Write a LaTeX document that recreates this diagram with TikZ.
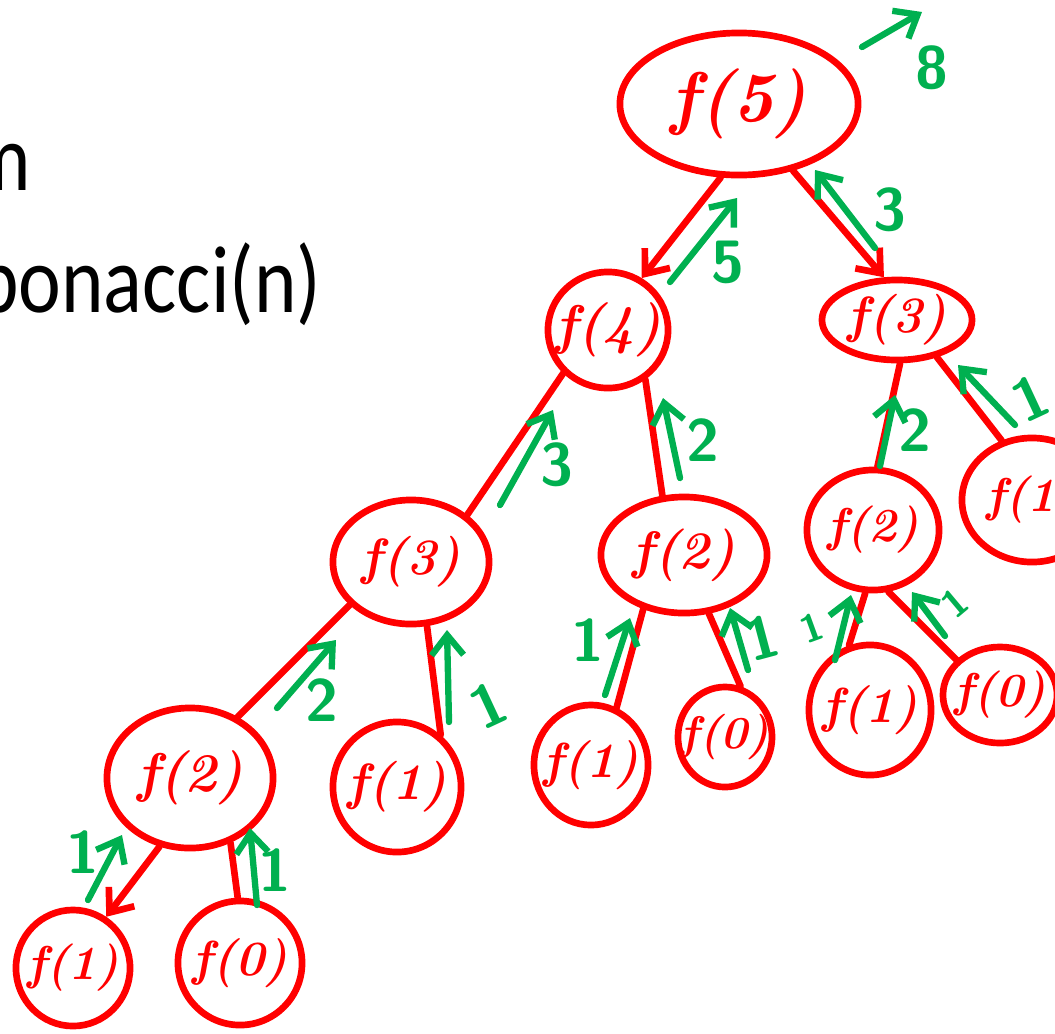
\documentclass[tikz,border=0pt]{standalone}
\usepackage{fontspec}
\newfontfamily\slidefont{Carlito}
\usetikzlibrary{arrows.meta,shapes.geometric}
\definecolor{pen}{RGB}{255,0,0}
\definecolor{ink}{RGB}{0,176,80}

\begin{document}
\begin{tikzpicture}[x=0.01cm,y=-0.01cm,
  call/.style n args={4}{draw=pen, line width=1.9pt, ellipse, inner sep=0pt,
    minimum width=#1*0.02cm, minimum height=#2*0.02cm,
    label={[text=pen, inner sep=0pt,
      font=\fontsize{#3}{#3}\selectfont\bfseries\itshape]center:#4}},
  link/.style={draw=pen, line width=1.9pt, line cap=round},
  calltip/.style={-{Straight Barb[length=0.2cm,width=0.32cm]}},
  ret/.style={draw=ink, line width=1.8pt, line cap=round,
    -{Straight Barb[length=0.2cm,width=0.32cm]}},
  num/.style={text=ink, font=\fontsize{#1}{#1}\selectfont\bfseries\sffamily, inner sep=0pt},
  num/.default=17,
  slide/.style={anchor=base east, inner sep=0pt, font=\slidefont\fontsize{23}{28}\selectfont}
]
\useasboundingbox (0,0) rectangle (1055,1033);
\clip (0,0) rectangle (1055,1033);

% slide text
\node[slide] (line1) at (32,190) {\scalebox{1}[1.18]{m}};
\node[slide] (line2) at (322,312) {\scalebox{1}[1.18]{bonacci(n)}};

% recursion tree
\node[call={119}{71}{20}{f(5)}]  (n5)   at (739,104) {};
\node[call={60}{58}{15.5}{f(4)}] (n4)   at (608,330) {};
\node[call={75}{40}{14.5}{f(3)}] (n3r)  at (897,320) {};
\node[call={78}{62}{14.5}{f(3)}] (n3l)  at (411,562) {};
\node[call={83}{58}{15}{f(2)}]   (n2m)  at (684,555) {};
\node[call={66}{60}{13.5}{f(2)}] (n2r)  at (873,530) {};
\node[call={70}{62}{13.5}{f(1)}] (n1fr) at (1032,500) {};
\node[call={83}{70}{15.5}{f(2)}] (n2bl) at (190,778) {};
\node[call={64}{65}{14.5}{f(1)}] (n1lm) at (397,787) {};
\node[call={57}{60}{14}{f(1)}]   (n1m)  at (591,765) {};
\node[call={47}{50}{13}{f(0)}]   (n0m)  at (725,737) {};
\node[call={61}{65}{14}{f(1)}]   (n1r)  at (870,710) {};
\node[call={57}{48}{13.5}{f(0)}] (n0r)  at (1000,695) {};
\node[call={57}{58}{13.5}{f(1)}] (n1bl) at (73,968) {};
\node[call={62}{62}{14}{f(0)}]   (n0b)  at (240,963) {};

% calls
\draw[link,calltip] (n5.-104) -- (n4.57);
\draw[link,calltip] (n5.-51)  -- (n3r.107);
\draw[link] (n4.-136) -- (n3l.40);
\draw[link] (n4.-53)  -- (n2m.110);
\draw[link] (n3l.-145) -- (n2bl.52);
\draw[link] (n3l.-76) -- (n1lm.50);
\draw[link] (n2m.-127) -- (n1m.66);
\draw[link] (n2m.-67) -- (n0m.73);
\draw[link] (n3r.-86) -- (n2r.86);
\draw[link] (n3r.-43) -- (n1fr.117);
\draw[link] (n2r.-97) -- (n1r.108);
\draw[link] (n2r.-76) -- (n0r.141);
\draw[link,calltip] (n2bl.-114) -- (n1bl.57);
\draw[link] (n2bl.-58) -- (n0b.92);

% returned values
\draw[ret] (862,47) -- (922,12);   \node[num] (v8)  at (932,68) {8};
\draw[ret] (670,282) -- (737,198); \node[num] (v5)  at (728,262) {5};
\draw[ret] (875,248) -- (815,170); \node[num] (v3a) at (890,210) {3};
\draw[ret] (500,505) -- (553,410); \node[num] (v3b) at (557,465) {3};
\draw[ret] (680,478) -- (663,398); \node[num] (v2a) at (703,440) {2};
\draw[ret] (880,466) -- (895,395); \node[num] (v2b) at (915,430) {2};
\draw[ret] (1015,425) -- (958,365); \node[num,rotate=25] (v1a) at (1030,398) {1};
\draw[ret] (277,708) -- (336,640); \node[num] (v2c) at (322,700) {2};
\draw[ret] (449,722) -- (447,630); \node[num,rotate=25] (v1b) at (488,705) {1};
\draw[ret] (605,695) -- (630,618); \node[num] (v1c) at (588,640) {1};
\draw[ret] (748,670) -- (730,608); \node[num,rotate=15] (v1d) at (762,638) {1};
\draw[ret] (835,660) -- (851,595); \node[num=11,rotate=20] (v1e) at (812,628) {1};
\draw[ret] (945,636) -- (912,592); \node[num=11,rotate=40] (v1f) at (955,603) {1};
\draw[ret] (88,900) -- (122,835);  \node[num] (v1g) at (83,852) {1};
\draw[ret] (257,905) -- (250,828); \node[num] (v1h) at (275,870) {1};
\end{tikzpicture}
\end{document}
